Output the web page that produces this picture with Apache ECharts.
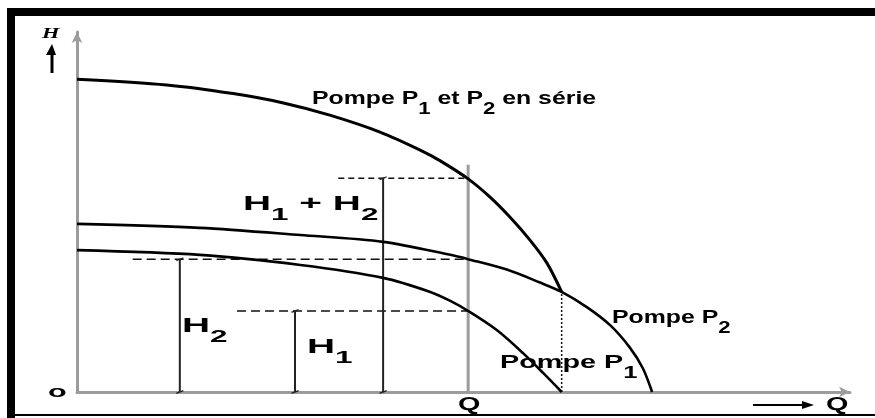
<!DOCTYPE html>
<html>
<head>
<meta charset="utf-8">
<script src="https://cdn.jsdelivr.net/npm/echarts@6/dist/echarts.min.js"></script>
<style>
  html, body { margin: 0; padding: 0; background: #fff; }
  #chart { width: 875px; height: 418px; }
</style>
</head>
<body>
<div id="chart"></div>
<script>
// Head H against flow Q (arbitrary units, axes 0..100)
const serieCurve = [[0, 86.9], [11.6, 85.3], [20.2, 82.9], [26.7, 80.3], [32.7, 76.9], [39.2, 72.2],
  [44.4, 67.2], [47.0, 64.2], [50.6, 59.2], [53.4, 54.2], [56.0, 48.6], [58.6, 42.2], [60.8, 35.8], [62.7, 27.8]];
const pompeP2 = [[0, 46.7], [15.9, 45.6], [28.9, 43.6], [39.6, 41.7], [48.3, 38.1], [50.6, 36.9], [55.6, 34.0],
  [59.9, 30.4], [62.7, 27.8], [66.0, 23.5], [69.0, 18.5], [71.5, 12.4], [73.2, 6.6], [74.4, 0]];
const pompeP1 = [[0, 39.4], [15.9, 38.1], [28.9, 35.3], [39.6, 31.7], [45.7, 27.8], [48.3, 25.3], [50.6, 22.5],
  [54.3, 17.2], [57.7, 10.8], [60.3, 5.3], [62.7, 0]];

// Operating flow and the heads read at that flow
const Q = 50.6;
const H1 = 22.5;          // pump P1 at Q
const H2 = 36.9;          // pump P2 at Q
const H12 = H1 + H2;      // pumps in series at Q
const Q1max = 62.7;       // flow where P1 delivers no head
const H1max = 27.8;       // P2 head at that flow
const qLineTop = 63.1;

// Where the dimension bars stand and where their leader lines start
const barX = { h2: 13.3, h1: 28.2, h12: 39.6 };
const leadStart = { h2: 7.2, h1: 20.7, h12: 33.8 };

const black = '#111';
const grey = '#9c9c9c';

function seg(points, color, width, type, z) {
  return {
    type: 'line', data: points, symbol: 'none', silent: true, z: z || 2,
    lineStyle: { color: color, width: width, type: type || 'solid' }
  };
}
function curve(points, width) {
  return Object.assign(seg(points, '#000', width, 'solid', 5), { smooth: 0.3 });
}
// dimension bar with small slanted end marks
function bar(x, h) {
  return Object.assign(seg([[x, 0], [x, h]], '#222', 2, 'solid', 3), {
    symbol: 'path://M0,3 L7,0 L7,1.6 L0,4.6 Z', symbolSize: [7, 4], showSymbol: true,
    itemStyle: { color: '#222' }
  });
}

const series = [
  seg([[Q, 0], [Q, qLineTop]], grey, 3, 'solid', 1),
  seg([[leadStart.h12, H12], [Q, H12]], black, 1.5, [6, 4], 2),
  seg([[leadStart.h2, H2], [Q, H2]], black, 1.5, [9, 5], 2),
  seg([[leadStart.h1, H1], [Q, H1]], black, 1.5, [9, 5], 2),
  seg([[Q1max, 0], [Q1max, H1max]], black, 1.5, [2, 2], 2),
  bar(barX.h2, H2),
  bar(barX.h1, H1),
  bar(barX.h12, H12),
  curve(serieCurve, 3),
  curve(pompeP2, 2.6),
  curve(pompeP1, 2.6)
];

// Text with lowered indices, laid out piece by piece
const FAMILY = 'Liberation Sans';
const measureCtx = document.createElement('canvas').getContext('2d');
function textWidth(str, size) {
  measureCtx.font = 'bold ' + size + 'px "' + FAMILY + '"';
  return measureCtx.measureText(str).width;
}
function label(x, capY, parts, opt) {
  const children = [];
  let cx = 0;
  parts.forEach(function (p) {
    const isSub = p[1] === 's';
    const size = isSub ? opt.sub : opt.size;
    children.push({
      type: 'text', x: cx, y: isSub ? opt.drop : 0, silent: true,
      style: { text: p[0], fontSize: size, fontWeight: 'bold', fontFamily: FAMILY,
        align: 'left', verticalAlign: 'middle', fill: '#000' }
    });
    cx += textWidth(p[0], size);
  });
  return { type: 'group', x: x, y: capY, scaleX: opt.sx, z: 20, silent: true, children: children };
}
const pompeFont = { size: 18, sub: 16, drop: 11, sx: 1.38 };
const pompeWide = { size: 18, sub: 16, drop: 11, sx: 1.6 };
const hFont = { size: 21, sub: 17, drop: 11, sx: 1.85 };
const qFont = { size: 18, sub: 14, drop: 0, sx: 1.6 };

const graphic = [
  // frame
  { type: 'rect', shape: { x: 7, y: 8, width: 868, height: 8 }, style: { fill: '#000' }, silent: true },
  { type: 'rect', shape: { x: 7, y: 8, width: 8, height: 410 }, style: { fill: '#000' }, silent: true },
  { type: 'rect', shape: { x: 7, y: 414, width: 868, height: 2 }, style: { fill: '#000' }, silent: true },

  label(312, 99, [['Pompe P', 'b'], ['1', 's'], [' et P', 'b'], ['2', 's'], [' en série', 'b']], pompeFont),
  label(243, 204, [['H', 'b'], ['1', 's'], [' + H', 'b'], ['2', 's']], hFont),
  label(182, 326, [['H', 'b'], ['2', 's']], hFont),
  label(307, 347, [['H', 'b'], ['1', 's']], hFont),
  label(612, 318, [['Pompe P', 'b'], ['2', 's']], pompeFont),
  label(500, 363, [['Pompe P', 'b'], ['1', 's']], pompeWide),
  label(458, 405, [['Q', 'b']], qFont),
  label(826, 405, [['Q', 'b']], qFont),
  label(48, 392, [['o', 'b']], { size: 17, sub: 14, drop: 0, sx: 1.8 }),
  {
    type: 'text', x: 42, y: 34, scaleX: 1.6, z: 20, silent: true,
    style: { text: 'H', fontSize: 14, fontStyle: 'italic', fontWeight: 'bold', fontFamily: 'Liberation Serif',
      align: 'left', verticalAlign: 'middle', fill: '#000' }
  },
  // small head arrow beside the H axis
  { type: 'line', shape: { x1: 52, y1: 50, x2: 52, y2: 73 }, style: { stroke: '#000', lineWidth: 3 }, silent: true },
  { type: 'polygon', shape: { points: [[46, 55], [52, 44], [56, 55]] }, style: { fill: '#000' }, silent: true },
  // flow arrow beside the Q label
  { type: 'line', shape: { x1: 753, y1: 405, x2: 806, y2: 405 }, style: { stroke: '#000', lineWidth: 2 }, silent: true },
  { type: 'polygon', shape: { points: [[802, 401], [814, 405], [802, 409]] }, style: { fill: '#000' }, silent: true }
];

const chart = echarts.init(document.getElementById('chart'), null, { renderer: 'canvas' });
chart.setOption({
  animation: false,
  backgroundColor: '#fff',
  grid: { left: 77, right: 25, top: 32, bottom: 26 },
  xAxis: {
    type: 'value', min: 0, max: 100,
    axisLine: { show: true, symbol: ['none', 'arrow'], symbolSize: [8, 11], lineStyle: { color: grey, width: 3 } },
    axisTick: { show: false }, axisLabel: { show: false }, splitLine: { show: false }
  },
  yAxis: {
    type: 'value', min: 0, max: 100,
    axisLine: { show: true, symbol: ['none', 'arrow'], symbolSize: [8, 11], lineStyle: { color: grey, width: 3 } },
    axisTick: { show: false }, axisLabel: { show: false }, splitLine: { show: false }
  },
  series: series,
  graphic: graphic
});
</script>
</body>
</html>
